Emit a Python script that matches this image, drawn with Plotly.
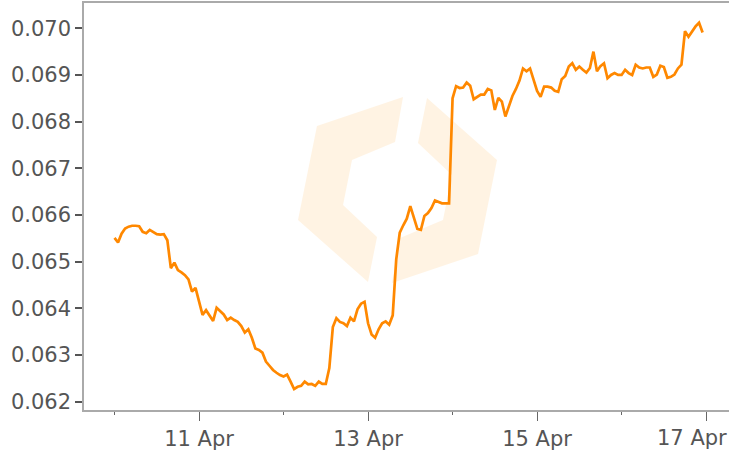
import pandas as pd
import plotly.graph_objects as go

# hourly readings, 10 Apr 00:00 .. 16 Apr 23:00
start = '2024-04-10 00:00'
values = [
    0.06551, 0.06541, 0.06560, 0.06571, 0.06575, 0.06577, 0.06577, 0.06576,
    0.06564, 0.06561, 0.06568, 0.06564, 0.06559, 0.06558, 0.06559, 0.06546,
    0.06486, 0.06498, 0.06482, 0.06477, 0.06471, 0.06462, 0.06436, 0.06444,
    0.06415, 0.06386, 0.06396, 0.06385, 0.06373, 0.06401, 0.06394, 0.06387,
    0.06375, 0.06380, 0.06375, 0.06371, 0.06362, 0.06348, 0.06355, 0.06337,
    0.06314, 0.06311, 0.06305, 0.06286, 0.06277, 0.06268, 0.06262, 0.06257,
    0.06254, 0.06258, 0.06243, 0.06227, 0.06232, 0.06234, 0.06243, 0.06237,
    0.06238, 0.06234, 0.06243, 0.06238, 0.06238, 0.06272, 0.06360, 0.06379,
    0.06371, 0.06368, 0.06362, 0.06380, 0.06372, 0.06398, 0.06410, 0.06414,
    0.06368, 0.06344, 0.06337, 0.06355, 0.06368, 0.06372, 0.06365, 0.06385,
    0.06505, 0.06562, 0.06578, 0.06592, 0.06619, 0.06595, 0.06570, 0.06568,
    0.06598, 0.06604, 0.06615, 0.06631, 0.06628, 0.06625, 0.06625, 0.06625,
    0.06850, 0.06876, 0.06872, 0.06873, 0.06884, 0.06877, 0.06848, 0.06853,
    0.06858, 0.06858, 0.06870, 0.06867, 0.06825, 0.06851, 0.06843, 0.06811,
    0.06832, 0.06855, 0.06870, 0.06888, 0.06914, 0.06908, 0.06914, 0.06888,
    0.06866, 0.06853, 0.06875, 0.06875, 0.06873, 0.06866, 0.06864, 0.06891,
    0.06898, 0.06918, 0.06925, 0.06911, 0.06918, 0.06911, 0.06905, 0.06915,
    0.06950, 0.06908, 0.06919, 0.06925, 0.06893, 0.06900, 0.06904, 0.06900,
    0.06900, 0.06911, 0.06904, 0.06900, 0.06922, 0.06916, 0.06914, 0.06916,
    0.06916, 0.06896, 0.06901, 0.06920, 0.06917, 0.06894, 0.06896, 0.06901,
    0.06914, 0.06922, 0.06994, 0.06982, 0.06994, 0.07004, 0.07012, 0.06991,
]
times = pd.date_range(start, periods=len(values), freq='h')

x_ticks = ['2024-04-11', '2024-04-13', '2024-04-15', '2024-04-17']
x_labels = ['11 Apr', '13 Apr', '15 Apr', '17 Apr']
x_range = ['2024-04-09 15:20', '2024-04-17 06:30']
y_range = [0.061822, 0.070542]
y_ticks = [0.062, 0.063, 0.064, 0.065, 0.066, 0.067, 0.068, 0.069, 0.070]

W, H = 729, 455
M = dict(l=84, r=0, t=3, b=45)

# faint logo watermark behind the plot (pixel outline, converted to paper)
logo_left = [(403, 97), (317, 126), (298, 220), (368, 282),
             (377, 237), (343, 205), (352, 160), (395, 142)]
cx, cy = 397.5, 190
logo_right = [(2 * cx - x, 2 * cy - y) for x, y in logo_left]

pw = W - M['l'] - M['r']
ph = H - M['t'] - M['b']


def to_path(pts):
    p = [((x - M['l']) / pw, (H - M['b'] - y) / ph) for x, y in pts]
    return 'M ' + ' L '.join(f'{a:.4f},{b:.4f}' for a, b in p) + ' Z'


shapes = [dict(type='path', xref='paper', yref='paper', path=to_path(pts),
               fillcolor='rgba(255, 185, 90, 0.17)', line=dict(width=0),
               layer='below')
          for pts in (logo_left, logo_right)]

fig = go.Figure()
fig.add_trace(go.Scatter(x=times, y=values, mode='lines',
                         line=dict(color='#ff8800', width=2.7),
                         hoverinfo='skip'))

axis_font = dict(family='DejaVu Sans', size=21, color='#555555')

# last date label is pulled inside the right edge, like the original
fig.add_annotation(xref='paper', yref='paper', x=1, y=-28 / ph,
                   xanchor='right', yanchor='middle', showarrow=False,
                   text=x_labels[-1], font=axis_font)

fig.update_layout(
    width=W, height=H,
    margin=M,
    paper_bgcolor='white',
    plot_bgcolor='rgba(0,0,0,0)',
    showlegend=False,
    shapes=shapes,
    xaxis=dict(
        type='date',
        range=x_range,
        automargin=False,
        tickvals=x_ticks,
        ticktext=x_labels[:-1] + [''],
        ticks='outside', ticklen=9, tickcolor='#666666', tickwidth=1,
        minor=dict(ticks='outside', ticklen=3, dtick=86400000,
                   tick0='2024-04-10', tickcolor='#666666'),
        showgrid=False, zeroline=False,
        showline=True, linecolor='#aaaaaa', linewidth=1.5, mirror=True,
        tickfont=axis_font,
    ),
    yaxis=dict(
        range=y_range,
        automargin=False,
        tickvals=y_ticks,
        tickformat='.3f',
        ticks='outside', ticklen=7, tickcolor='#555555', tickwidth=1.5,
        showgrid=False, zeroline=False,
        showline=True, linecolor='#aaaaaa', linewidth=1.5,
        tickfont=axis_font,
    ),
)

fig.write_html('out.html', config={'displayModeBar': False},
               post_script="document.body.style.margin='0';")
